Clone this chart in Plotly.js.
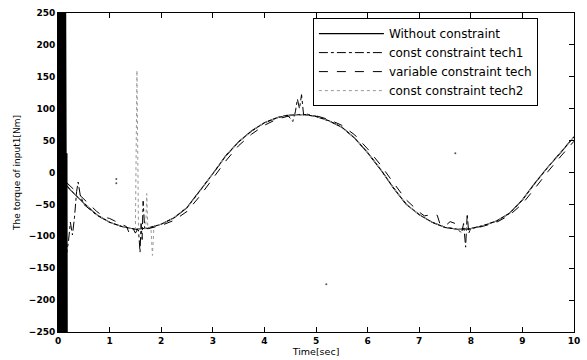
<!DOCTYPE html>
<html>
<head>
<meta charset="utf-8">
<script src="https://cdn.plot.ly/plotly-3.0.1.min.js"></script>
<style>html,body{margin:0;padding:0;background:#fff;}#chart{width:587px;height:360px;}</style>
</head>
<body>
<div id="chart"></div>
<script>
// Without constraint
const xSolid = [0,0.25,0.5,0.75,1,1.25,1.5,1.75,2,2.25,2.5,2.75,3,3.25,3.5,3.75,4,4.25,4.5,4.75,5,5.25,5.5,5.75,6,6.25,6.5,6.75,7,7.25,7.5,7.75,8,8.25,8.5,8.75,9,9.25,9.5,9.75,10];
const ySolid = [-6,-28,-48,-66,-78,-85,-89,-87,-81,-71,-55,-29,-2,26,48,65,78,86,90,91,88,81,71,54,31,5,-24,-50,-66,-78,-86,-89,-88,-83,-76,-64,-43,-16,9,32,56];

// const constraint tech1
const xTech1 = [0.15,0.2,0.24,0.28,0.32,0.36,0.39,0.43,0.5,0.75,1,1.25,1.5,1.56,1.59,1.61,1.63,1.65,1.68,1.75,2,2.25,2.5,2.75,3,3.25,3.5,3.75,4,4.25,4.45,4.55,4.6,4.64,4.68,4.72,4.76,4.8,5,5.25,5.5,5.75,6,6.25,6.5,6.75,7,7.25,7.5,7.75,7.82,7.86,7.9,7.93,7.96,8,8.25,8.5,8.75,9,9.25,9.5,9.75,10];
const yTech1 = [-135,-110,-78,-98,-70,-30,-15,-35,-50,-67,-78,-85,-89,-90,-125,-80,-105,-45,-88,-87,-81,-71,-55,-29,-2,26,48,65,78,86,90,80,95,115,100,122,90,92,88,81,71,54,31,5,-24,-50,-66,-78,-86,-89,-95,-80,-117,-65,-95,-88,-83,-76,-64,-43,-16,9,32,56];

// variable constraint tech
const xVar = [0.17,0.25,0.5,0.75,0.9,1,1.1,1.25,1.33,1.38,1.45,1.5,1.55,1.75,2,2.25,2.5,2.75,3,3.25,3.5,3.75,4,4.25,4.5,4.75,5,5.25,5.5,5.75,6,6.25,6.5,6.75,7,7.1,7.25,7.35,7.4,7.5,7.6,7.7,7.8,8,8.25,8.5,8.75,9,9.25,9.5,9.75,10];
const yVar = [-16,-22,-42,-61,-70,-72,-76,-82,-85,-95,-87,-95,-88,-88,-83,-75,-61,-37,-9,18,42,60,74,84,89,91,89,83,74,59,37,12,-16,-43,-62,-68,-66,-67,-80,-84,-77,-80,-88,-89,-84,-78,-67,-49,-24,2,26,49];

// const constraint tech2 (start-up oscillation band)
const xBand = [0,0.01,0.02,0.03,0.04,0.05,0.06,0.07,0.08,0.09,0.1,0.11,0.12,0.13,0.14,0.15,0.155,0.16,0.165,0.17];
const yBand = [250,-250,250,-250,250,-250,250,-250,250,-250,250,-250,250,-250,250,-250,30,-250,30,-250];

// const constraint tech2 (rest)
const xTech2 = [0.17,0.25,0.5,0.75,1,1.25,1.5,1.53,1.56,1.7,1.72,1.74,1.8,1.83,1.86,2,2.25,2.5,2.75,3,3.25,3.5,3.75,4,4.25,4.5,4.75,5,5.25,5.5,5.75,6,6.25,6.5,6.75,7,7.25,7.5,7.75,8,8.25,8.5,8.75,9,9.25,9.5,9.75,10];
const yTech2 = [-18,-28,-48,-66,-78,-85,-89,160,-89,-88,-33,-87,-85,-130,-84,-81,-71,-55,-29,-2,26,48,65,78,86,90,91,88,81,71,54,31,5,-24,-50,-66,-78,-86,-89,-88,-83,-76,-64,-43,-16,9,32,56];
const xTech2Dots = [1.13,1.13,5.2,7.7];
const yTech2Dots = [-10,-17,-175,30];

const xTicks = [0,1,2,3,4,5,6,7,8,9,10];
const yTicks = [-250,-200,-150,-100,-50,0,50,100,150,200,250];

const traces = [
  {x:xSolid, y:ySolid, type:'scatter', mode:'lines', name:'Without constraint',
   line:{color:'#000', width:1.1}},
  {x:xTech1, y:yTech1, type:'scatter', mode:'lines', name:'const constraint tech1',
   line:{color:'#000', width:1, dash:'dashdot'}},
  {x:xVar, y:yVar, type:'scatter', mode:'lines', name:'variable constraint tech',
   line:{color:'#000', width:1, dash:'dash'}},
  {x:xTech2, y:yTech2, type:'scatter', mode:'lines', name:'const constraint tech2',
   line:{color:'#999', width:1, dash:'dot'}},
  {x:xBand, y:yBand, type:'scatter', mode:'lines', showlegend:false, hoverinfo:'skip',
   line:{color:'#000', width:2}},
  {x:xTech2Dots, y:yTech2Dots, type:'scatter', mode:'markers', showlegend:false,
   marker:{color:'#555', size:2}}
];

const tickFont = {family:'DejaVu Sans', size:9, color:'#000', weight:'bold'};
const layout = {
  width:587, height:360,
  margin:{l:58, r:13, t:13, b:28},
  paper_bgcolor:'#fff', plot_bgcolor:'#fff',
  showlegend:true,
  legend:{x:0.494, y:0.984, xanchor:'left', yanchor:'top',
    bgcolor:'#fff', bordercolor:'#000', borderwidth:1,
    font:{family:'DejaVu Sans', size:12, color:'#000'},
    tracegroupgap:0, itemwidth:65},
  xaxis:{range:[0,10], tickvals:xTicks, ticktext:xTicks.map(String),
    ticks:'inside', ticklen:5, tickcolor:'#000', showline:true, linecolor:'#000', linewidth:1,
    mirror:'ticks', showgrid:false, zeroline:false, tickfont:tickFont,
    title:{text:'Time[sec]', font:{family:'DejaVu Sans', size:9.5, color:'#000'}, standoff:1}},
  yaxis:{range:[-250,250], tickvals:yTicks,
    ticks:'inside', ticklen:5, tickcolor:'#000', showline:true, linecolor:'#000', linewidth:1,
    mirror:'ticks', showgrid:false, zeroline:false, tickfont:tickFont,
    title:{text:'The torque of input1[Nm]', font:{family:'DejaVu Sans', size:9, color:'#000'}, standoff:6}}
};

Plotly.newPlot('chart', traces, layout, {staticPlot:true, displayModeBar:false});
</script>
</body>
</html>
